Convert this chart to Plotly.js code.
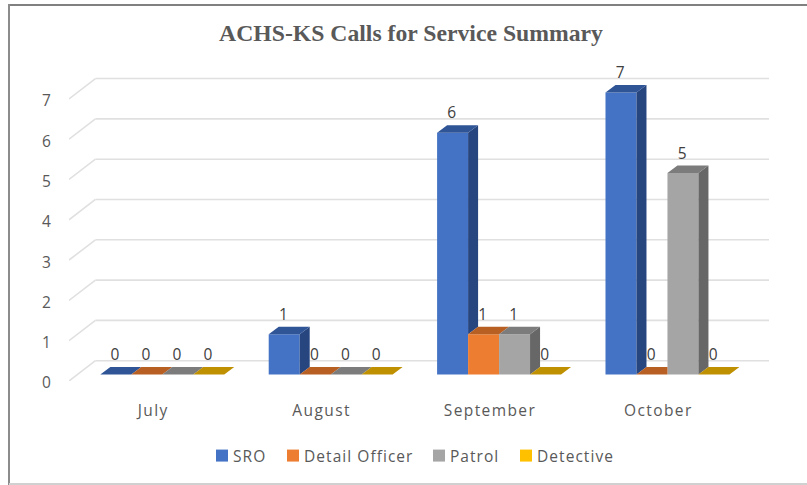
<!DOCTYPE html>
<html>
<head>
<meta charset="utf-8">
<script src="https://cdn.plot.ly/plotly-3.0.1.min.js"></script>
<style>
html,body{margin:0;padding:0;background:#fff}
.xtick text{letter-spacing:1.4px}
.legendtext{letter-spacing:1.05px}
</style>
</head>
<body>
<div id="chart" style="width:807px;height:485px"></div>
<script>
const months = ["July", "August", "September", "October"];
const seriesNames = ["SRO", "Detail Officer", "Patrol", "Detective"];
const sro = [0, 1, 6, 7];
const detailOfficer = [0, 0, 1, 0];
const patrol = [0, 0, 1, 5];
const detective = [0, 0, 0, 0];
const frontColors = ["#4472C4", "#ED7D31", "#A5A5A5", "#FFC000"];
const topColors = ["#2F5597", "#B85F24", "#7C7C7C", "#BF9000"];
const sideColors = ["#27467F", "#A04F1C", "#676767", "#A67C00"];
const yTicks = [0, 1, 2, 3, 4, 5, 6, 7];

const allValues = [sro, detailOfficer, patrol, detective];

// 3D look, in axis units
const barW = 0.184, shift = 0.054, base = 0.161;
const barDX = 0.0594, barDY = 0.186;
const wallDX = 0.157, wallDY = 0.504;
const xMin = -0.5, xMax = 3.657, yMax = 8.213;
const labelLift = 0.45, labelShift = -0.005;

const traces = [];
const left = (i, k) => k + shift + (i - 2) * barW;

// visible faces of each bar, hidden parts removed against the next bar in the group
allValues.forEach((vals, i) => {
  const sx = [], sy = [], tx = [], ty = [];
  vals.forEach((v, k) => {
    const next = i < allValues.length - 1 ? allValues[i + 1][k] : null;
    const xl = left(i, k), xr = xl + barW;
    const top = v + base;
    const low = (next === null ? 0 : next) + base;
    if (v > (next === null ? 0 : next)) {
      sx.push(xr, xr + barDX, xr + barDX, xr, xr, null);
      sy.push(low, low + barDY, top + barDY, top, low, null);
    }
    const hidden = next !== null && next > v;
    const xEnd = hidden ? xr : xr + barDX;
    tx.push(xl, xr, xEnd, xl + barDX, xl, null);
    ty.push(top, top, top + barDY, top + barDY, top, null);
  });
  if (sx.length) traces.push({type: "scatter", mode: "lines", x: sx, y: sy, fill: "toself",
    fillcolor: sideColors[i], line: {width: 0, color: sideColors[i]}, hoverinfo: "skip", showlegend: false});
  traces.push({type: "scatter", mode: "lines", x: tx, y: ty, fill: "toself",
    fillcolor: topColors[i], line: {width: 0, color: topColors[i]}, hoverinfo: "skip", showlegend: false});
});

// front faces
allValues.forEach((vals, i) => {
  traces.push({type: "bar", name: seriesNames[i],
    x: months.map((m, k) => k + shift), y: vals, base: vals.map(() => base),
    marker: {color: frontColors[i], line: {width: 0}}, hoverinfo: "name+y"});
});

// data labels
allValues.forEach((vals, i) => {
  traces.push({type: "scatter", mode: "text", showlegend: false, hoverinfo: "skip",
    x: vals.map((v, k) => left(i, k) + barW / 2 + labelShift),
    y: vals.map(v => v + base + labelLift),
    text: vals.map(String), textposition: "middle center",
    textfont: {family: "'Open Sans', sans-serif", size: 15.5, color: "#404040"}});
});

// pixel position helpers for the frame only
const fx = px => (px - 69) / 700;
const fy = py => (381 - py) / 331;
const frameLine = (x0, y0, x1, y1, color, width) => ({type: "line", xref: "paper", yref: "paper", layer: "below",
  x0: fx(x0), y0: fy(y0), x1: fx(x1), y1: fy(y1), line: {color, width}});

// back wall gridlines with their slanted part
const gridShapes = [];
yTicks.forEach(t => {
  gridShapes.push({type: "line", xref: "x", yref: "y", layer: "below", x0: xMin, y0: t, x1: xMin + wallDX, y1: t + wallDY,
    line: {color: "#E0E0E0", width: 1.6}});
  gridShapes.push({type: "line", xref: "x", yref: "y", layer: "below", x0: xMin + wallDX, y0: t + wallDY, x1: xMax, y1: t + wallDY,
    line: {color: "#E0E0E0", width: 1.6}});
});

const layout = {
  width: 807, height: 485,
  margin: {l: 69, r: 38, t: 50, b: 104, pad: 0},
  paper_bgcolor: "#fff", plot_bgcolor: "rgba(0,0,0,0)",
  barmode: "group", bargap: 0.264, bargroupgap: 0,
  title: {text: "<b>ACHS-KS Calls for Service Summary</b>", x: 411 / 807, xanchor: "center",
    y: 1 - 33 / 485, yanchor: "middle",
    font: {family: "'Liberation Serif', serif", size: 23.7, color: "#595959"}},
  xaxis: {range: [xMin, xMax], tickmode: "array", tickvals: months.map((m, k) => k), ticktext: months,
    showgrid: false, zeroline: false, showline: false, ticks: "outside", ticklen: 15, tickcolor: "rgba(0,0,0,0)",
    tickfont: {family: "'Open Sans', sans-serif", size: 15.5, color: "#595959"}},
  yaxis: {range: [0, yMax], tickmode: "array", tickvals: yTicks,
    showgrid: false, zeroline: false, showline: false, ticks: "outside", ticklen: 14, tickcolor: "rgba(0,0,0,0)",
    tickfont: {family: "'Open Sans', sans-serif", size: 15.5, color: "#595959"}},
  legend: {orientation: "h", x: 411 / 807, xanchor: "center", y: 1 - 456 / 485, yanchor: "middle", yref: "container",
    font: {family: "'Open Sans', sans-serif", size: 15.5, color: "#595959"}, traceorder: "normal"},
  shapes: gridShapes.concat([
    frameLine(9, 5, 807, 5, "#808080", 2),
    frameLine(9, 4, 9, 485, "#8C8C8C", 2),
    frameLine(9, 484, 807, 484, "#D0D0D0", 2)
  ]),
  hovermode: "closest"
};
const legendSwatchLeft = [216, 287, 433, 520];
Plotly.newPlot("chart", traces, layout, {displayModeBar: false}).then(() => {
  document.querySelectorAll(".ytick text").forEach(t => t.setAttribute("y", parseFloat(t.getAttribute("y") || 0) + 2));
  document.querySelectorAll(".legend .traces").forEach((g, i) => {
    const swatch = g.querySelector(".legendpoints path");
    const dx = legendSwatchLeft[i] - swatch.getBoundingClientRect().left;
    const m = /translate\(([-\d.]+)[ ,]*([-\d.]*)\)/.exec(g.getAttribute("transform"));
    g.setAttribute("transform", "translate(" + (parseFloat(m[1]) + dx) + "," + (parseFloat(m[2]) || 0) + ")");
    const txt = g.querySelector(".legendtext");
    txt.setAttribute("x", parseFloat(txt.getAttribute("x")) - 9);
  });
  const clip = document.querySelector(".legend .scrollbox");
  if (clip) clip.removeAttribute("clip-path");
});
</script>
</body>
</html>
